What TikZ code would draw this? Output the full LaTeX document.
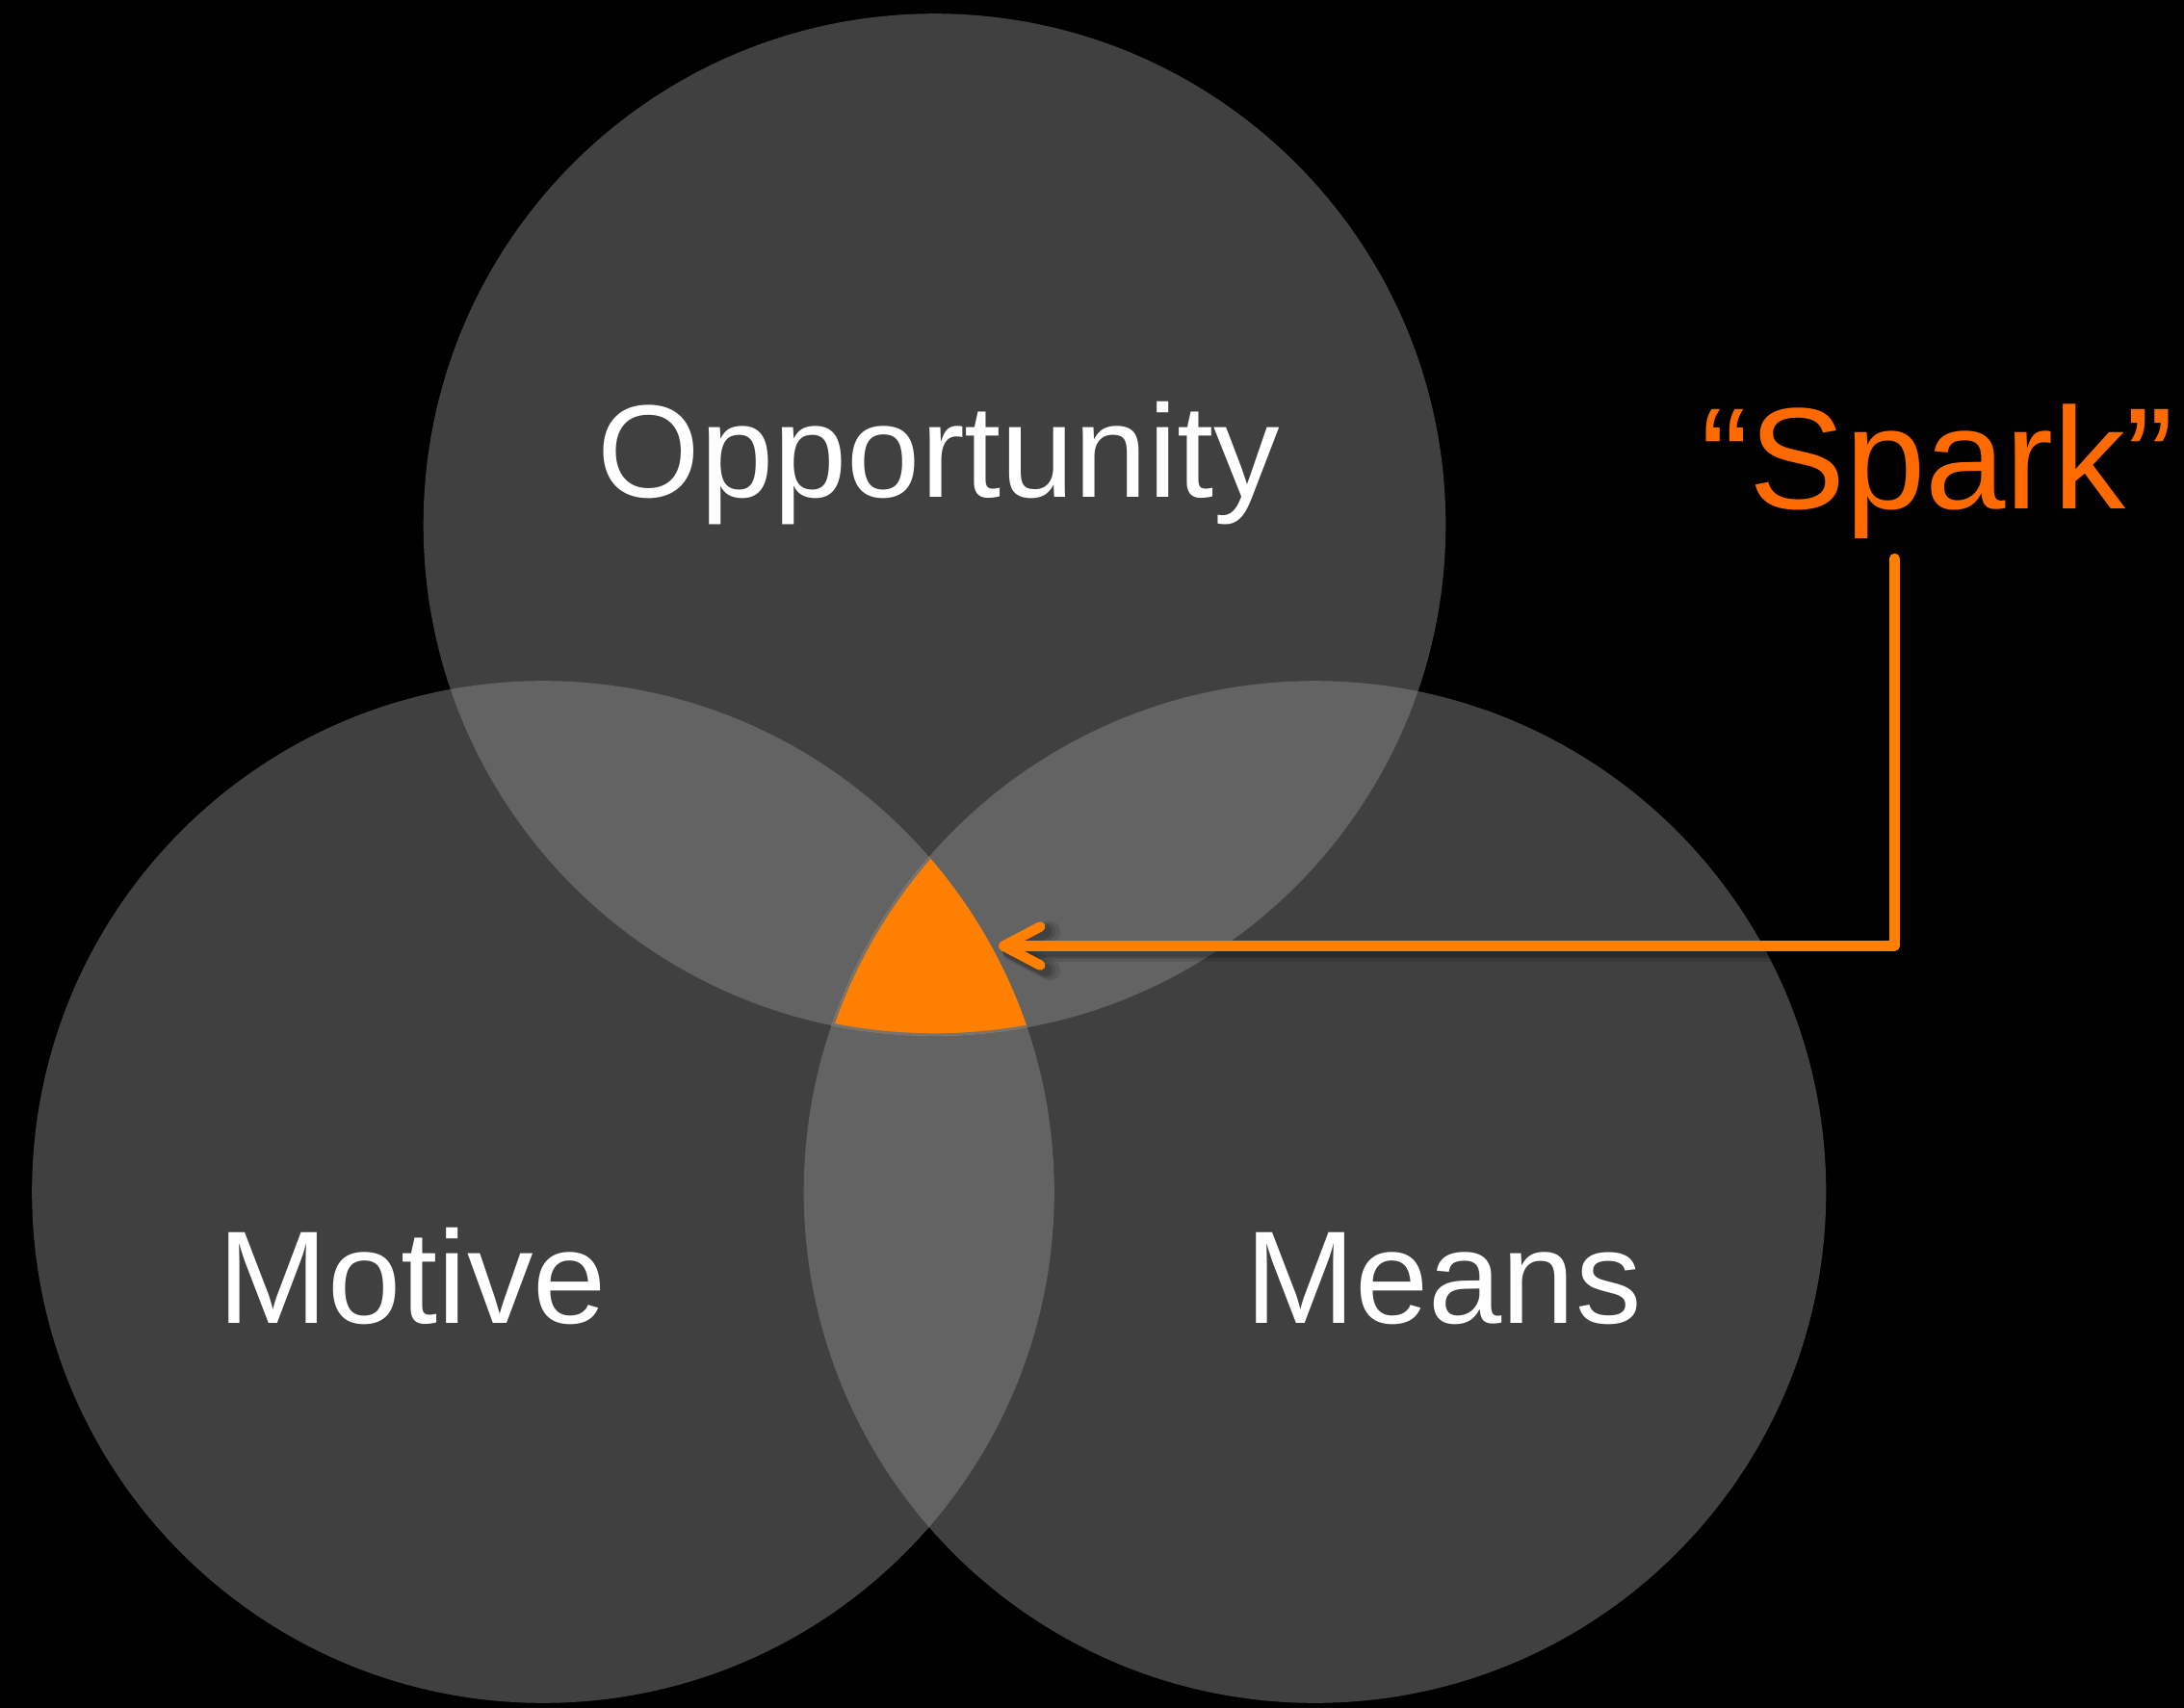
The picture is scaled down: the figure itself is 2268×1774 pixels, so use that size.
\documentclass[tikz,border=0pt]{standalone}
\usepackage{fontspec}
\setmainfont{Liberation Sans}
\usetikzlibrary{arrows.meta}
\definecolor{circgray}{RGB}{141,141,141}
\definecolor{sparkorange}{RGB}{255,127,0}
\definecolor{sparktext}{RGB}{255,106,0}
\definecolor{edgegray}{RGB}{115,115,115}
\tikzset{
  venn/.style={fill=circgray, fill opacity=0.46},
  lbl/.style={anchor=base, text=white, inner sep=0pt, font=\fontsize{137}{160}\selectfont},
  sparklbl/.style={anchor=base, text=sparktext, inner sep=0pt, font=\fontsize{150}{176}\selectfont},
  connector/.style={draw=sparkorange, line width=10.5pt, line join=round, line cap=round,
    -{Straight Barb[length=38pt,width=40pt,round]}},
  shadowline/.style={draw=black, line join=round, line cap=round,
    -{Straight Barb[length=38pt,width=40pt,round]}}
}
\begin{document}
\begin{tikzpicture}[x=1pt,y=-1pt]
  \useasboundingbox (0,0) rectangle (2268,1774);
  \fill[black] (0,0) rectangle (2268,1774);
  % circle centres
  \coordinate (cT) at (970.5,545);
  \coordinate (cL) at (564,1238);
  \coordinate (cR) at (1365.5,1238);
  \def\rad{530.8}
  % circles
  \fill[venn] (cT) circle[radius=\rad];
  \fill[venn] (cL) circle[radius=\rad];
  \fill[venn] (cR) circle[radius=\rad];
  % triple intersection
  \begin{scope}
    \clip (cT) circle[radius=\rad];
    \clip (cL) circle[radius=\rad];
    \clip (cR) circle[radius=\rad];
    \fill[sparkorange] (cT) circle[radius=\rad];
    \draw[edgegray, line width=5pt] (cT) circle[radius=\rad];
    \draw[edgegray, line width=5pt] (cR) circle[radius=\rad];
  \end{scope}
  % labels
  \node[lbl] (opp) at (975,516) {Opportunity};
  \node[lbl] (mot) at (428,1374) {Motive};
  \node[lbl] (mea) at (1499,1374) {Means};
  \node[sparklbl] (spark) at (2012,528) {“Spark”};
  % connector
  \coordinate (start) at (1967.5,580);
  \coordinate (tip) at (1037,982.5);
  \coordinate (startS) at (1971.5,585);
  \coordinate (tipS) at (1041,987.5);
  \draw[shadowline, opacity=0.10, line width=22pt] (startS) |- (tipS);
  \draw[shadowline, opacity=0.12, line width=17pt] (startS) |- (tipS);
  \draw[shadowline, opacity=0.15, line width=13pt] (startS) |- (tipS);
  \draw[connector] (start) |- (tip);
\end{tikzpicture}
\end{document}
